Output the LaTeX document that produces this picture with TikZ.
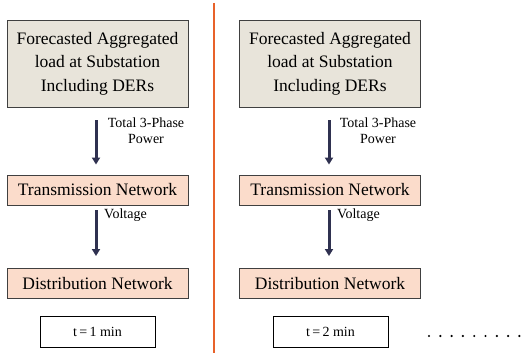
\documentclass[tikz,border=0pt]{standalone}
\usepackage{fontspec}
\setmainfont{Liberation Serif}
\usetikzlibrary{arrows.meta}
\definecolor{beige}{HTML}{E8E4DA}
\definecolor{peach}{HTML}{FBDCCB}
\definecolor{navy}{HTML}{2F3150}
\definecolor{sep}{HTML}{E8622A}
\tikzset{
  box/.style={draw=black!75, line width=0.9pt, minimum width=181pt, inner sep=0pt, align=center, font=\fontsize{17.5}{23.5}\selectfont},
  topbox/.style={box, fill=beige, minimum height=87pt},
  netbox/.style={box, fill=peach, minimum height=30pt},
  timebox/.style={draw=black, line width=0.7pt, fill=white, minimum width=115pt, minimum height=31pt, inner sep=0pt, font=\fontsize{14}{16}\selectfont},
  flow/.style={draw=navy, line width=3pt, -{Triangle[length=7pt,width=8pt]}},
  lbl/.style={font=\fontsize{14}{16}\selectfont, align=center, inner sep=0pt},
}
\begin{document}
\begin{tikzpicture}[x=1pt,y=-1pt]
\useasboundingbox (0,0) rectangle (523,355);
% separator
\coordinate (s1) at (214,3);
\coordinate (s2) at (214,353);
\draw[sep, line width=1.6pt] (s1) -- (s2);
% left column
\node[topbox] (f1) at (97.5,63.5) {Forecasted Aggregated\\load at Substation\\Including DERs};
\node[netbox] (t1) at (97.5,190) {Transmission Network};
\node[netbox] (d1) at (97.5,283.5) {Distribution Network};
\node[timebox] (c1) at (97.5,331.5) {t\,=\,1 min};
\draw[flow] ([xshift=-1.5pt,yshift=-13pt]f1.south) -- ([xshift=-1.5pt,yshift=10pt]t1.north);
\draw[flow] ([xshift=-1.5pt,yshift=-5pt]t1.south) -- ([xshift=-1.5pt,yshift=12pt]d1.north);
\node[lbl] (p1) at (146,131) {Total 3-Phase\\Power};
\node[lbl, anchor=west] (v1) at (104,215) {Voltage};
% right column
\node[topbox] (f2) at (330,63.5) {Forecasted Aggregated\\load at Substation\\Including DERs};
\node[netbox] (t2) at (330,190) {Transmission Network};
\node[netbox] (d2) at (330,283.5) {Distribution Network};
\node[timebox] (c2) at (330.5,331.5) {t\,=\,2 min};
\draw[flow] ([xshift=-1pt,yshift=-13pt]f2.south) -- ([xshift=-1pt,yshift=10pt]t2.north);
\draw[flow] ([xshift=-1pt,yshift=-5pt]t2.south) -- ([xshift=-1pt,yshift=12pt]d2.north);
\node[lbl] (p2) at (378,131) {Total 3-Phase\\Power};
\node[lbl, anchor=west] (v2) at (337,215) {Voltage};
% dots
\foreach \i in {0,...,8} \fill (429+11.3*\i,336) circle (1.2pt);
\end{tikzpicture}
\end{document}
